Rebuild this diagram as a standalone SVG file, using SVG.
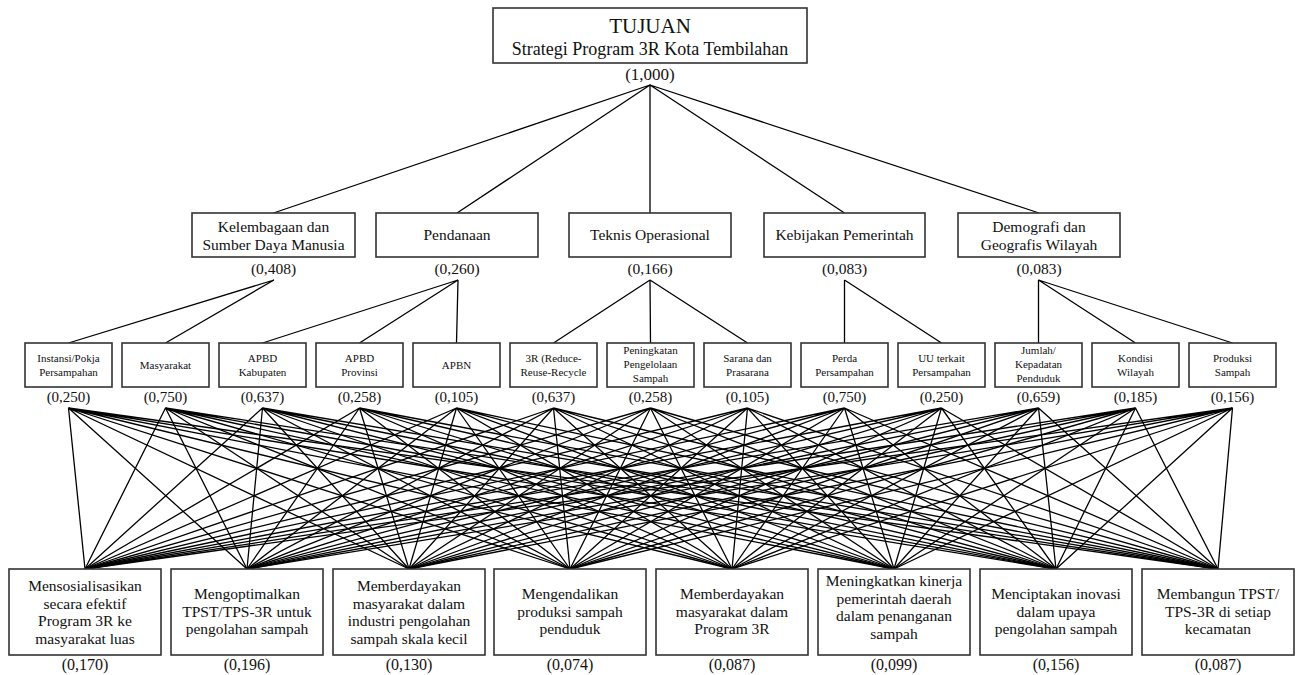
<svg xmlns="http://www.w3.org/2000/svg" width="1300" height="675" viewBox="0 0 1300 675">
<style>
text{font-family:"Liberation Serif","Times New Roman",serif;fill:#111;text-anchor:middle}
.box{fill:#fff;stroke:#333;stroke-width:1.6}
.ln{fill:none;stroke:#000;stroke-width:1.3}
.t1{font-size:21px}
.t2{font-size:18px}
.tv{font-size:17px}
.c{font-size:15.5px}
.cv{font-size:15.5px}
.s{font-size:11px}
.sv{font-size:15px}
.a{font-size:15.5px}
.av{font-size:16px}
</style>
<rect width="1300" height="675" fill="#fff"/>
<g id="connectors">
<path class="ln" d="M650 85L273.5 213M650 85L457 213M650 85L650 213M650 85L844.5 213M650 85L1039 213"/>
<path class="ln" d="M274 280L68.5 343M274 280L165.5 343M458 280L262.5 343M458 280L359.5 343M458 280L456.5 343M650 280L553.5 343M650 280L650.5 343M650 280L747.5 343M844.5 280L844.5 343M844.5 280L941.5 343M1038.5 280L1038.5 343M1038.5 280L1135.5 343M1038.5 280L1232.5 343"/>
<path class="ln" d="M68.5 408L85 569M68.5 408L247 569M68.5 408L409 569M68.5 408L570 569M68.5 408L732 569M68.5 408L894 569M68.5 408L1056 569M68.5 408L1218 569"/>
<path class="ln" d="M165.5 408L85 569M165.5 408L247 569M165.5 408L409 569M165.5 408L570 569M165.5 408L732 569M165.5 408L894 569M165.5 408L1056 569M165.5 408L1218 569"/>
<path class="ln" d="M262.5 408L85 569M262.5 408L247 569M262.5 408L409 569M262.5 408L570 569M262.5 408L732 569M262.5 408L894 569M262.5 408L1056 569M262.5 408L1218 569"/>
<path class="ln" d="M359.5 408L85 569M359.5 408L247 569M359.5 408L409 569M359.5 408L570 569M359.5 408L732 569M359.5 408L894 569M359.5 408L1056 569M359.5 408L1218 569"/>
<path class="ln" d="M456.5 408L85 569M456.5 408L247 569M456.5 408L409 569M456.5 408L570 569M456.5 408L732 569M456.5 408L894 569M456.5 408L1056 569M456.5 408L1218 569"/>
<path class="ln" d="M553.5 408L85 569M553.5 408L247 569M553.5 408L409 569M553.5 408L570 569M553.5 408L732 569M553.5 408L894 569M553.5 408L1056 569M553.5 408L1218 569"/>
<path class="ln" d="M650.5 408L85 569M650.5 408L247 569M650.5 408L409 569M650.5 408L570 569M650.5 408L732 569M650.5 408L894 569M650.5 408L1056 569M650.5 408L1218 569"/>
<path class="ln" d="M747.5 408L85 569M747.5 408L247 569M747.5 408L409 569M747.5 408L570 569M747.5 408L732 569M747.5 408L894 569M747.5 408L1056 569M747.5 408L1218 569"/>
<path class="ln" d="M844.5 408L85 569M844.5 408L247 569M844.5 408L409 569M844.5 408L570 569M844.5 408L732 569M844.5 408L894 569M844.5 408L1056 569M844.5 408L1218 569"/>
<path class="ln" d="M941.5 408L85 569M941.5 408L247 569M941.5 408L409 569M941.5 408L570 569M941.5 408L732 569M941.5 408L894 569M941.5 408L1056 569M941.5 408L1218 569"/>
<path class="ln" d="M1038.5 408L85 569M1038.5 408L247 569M1038.5 408L409 569M1038.5 408L570 569M1038.5 408L732 569M1038.5 408L894 569M1038.5 408L1056 569M1038.5 408L1218 569"/>
<path class="ln" d="M1135.5 408L85 569M1135.5 408L247 569M1135.5 408L409 569M1135.5 408L570 569M1135.5 408L732 569M1135.5 408L894 569M1135.5 408L1056 569M1135.5 408L1218 569"/>
<path class="ln" d="M1232.5 408L85 569M1232.5 408L247 569M1232.5 408L409 569M1232.5 408L570 569M1232.5 408L732 569M1232.5 408L894 569M1232.5 408L1056 569M1232.5 408L1218 569"/>
</g>
<g id="goal">
<rect class="box" x="493" y="8" width="314" height="55"/>
<text class="t1" x="650" y="33">TUJUAN</text>
<text class="t2" x="650" y="55">Strategi Program 3R Kota Tembilahan</text>
<text class="tv" x="650" y="80">(1,000)</text>
</g>
<g id="c1"><rect class="box" x="192" y="213" width="163" height="44"/><text class="c" x="273.5" y="232">Kelembagaan dan</text><text class="c" x="273.5" y="250">Sumber Daya Manusia</text><text class="cv" x="273.5" y="274">(0,408)</text></g>
<g id="c2"><rect class="box" x="376" y="213" width="162" height="44"/><text class="c" x="457" y="240">Pendanaan</text><text class="cv" x="457" y="274">(0,260)</text></g>
<g id="c3"><rect class="box" x="569" y="213" width="162" height="44"/><text class="c" x="650" y="240">Teknis Operasional</text><text class="cv" x="650" y="274">(0,166)</text></g>
<g id="c4"><rect class="box" x="764" y="213" width="161" height="44"/><text class="c" x="844.5" y="240">Kebijakan Pemerintah</text><text class="cv" x="844.5" y="274">(0,083)</text></g>
<g id="c5"><rect class="box" x="958" y="213" width="162" height="44"/><text class="c" x="1039" y="232">Demografi dan</text><text class="c" x="1039" y="250">Geografis Wilayah</text><text class="cv" x="1039" y="274">(0,083)</text></g>
<g id="s1"><rect class="box" x="25" y="343" width="87" height="44"/><text class="s" x="68.5" y="362">Instansi/Pokja</text><text class="s" x="68.5" y="376">Persampahan</text><text class="sv" x="68.5" y="402">(0,250)</text></g>
<g id="s2"><rect class="box" x="122" y="343" width="87" height="44"/><text class="s" x="165.5" y="369">Masyarakat</text><text class="sv" x="165.5" y="402">(0,750)</text></g>
<g id="s3"><rect class="box" x="219" y="343" width="87" height="44"/><text class="s" x="262.5" y="362">APBD</text><text class="s" x="262.5" y="376">Kabupaten</text><text class="sv" x="262.5" y="402">(0,637)</text></g>
<g id="s4"><rect class="box" x="316" y="343" width="87" height="44"/><text class="s" x="359.5" y="362">APBD</text><text class="s" x="359.5" y="376">Provinsi</text><text class="sv" x="359.5" y="402">(0,258)</text></g>
<g id="s5"><rect class="box" x="413" y="343" width="87" height="44"/><text class="s" x="456.5" y="369">APBN</text><text class="sv" x="456.5" y="402">(0,105)</text></g>
<g id="s6"><rect class="box" x="510" y="343" width="87" height="44"/><text class="s" x="553.5" y="362">3R (Reduce-</text><text class="s" x="553.5" y="376">Reuse-Recycle</text><text class="sv" x="553.5" y="402">(0,637)</text></g>
<g id="s7"><rect class="box" x="607" y="343" width="87" height="44"/><text class="s" x="650.5" y="354">Peningkatan</text><text class="s" x="650.5" y="368">Pengelolaan</text><text class="s" x="650.5" y="382">Sampah</text><text class="sv" x="650.5" y="402">(0,258)</text></g>
<g id="s8"><rect class="box" x="704" y="343" width="87" height="44"/><text class="s" x="747.5" y="362">Sarana dan</text><text class="s" x="747.5" y="376">Prasarana</text><text class="sv" x="747.5" y="402">(0,105)</text></g>
<g id="s9"><rect class="box" x="801" y="343" width="87" height="44"/><text class="s" x="844.5" y="362">Perda</text><text class="s" x="844.5" y="376">Persampahan</text><text class="sv" x="844.5" y="402">(0,750)</text></g>
<g id="s10"><rect class="box" x="898" y="343" width="87" height="44"/><text class="s" x="941.5" y="362">UU terkait</text><text class="s" x="941.5" y="376">Persampahan</text><text class="sv" x="941.5" y="402">(0,250)</text></g>
<g id="s11"><rect class="box" x="995" y="343" width="87" height="44"/><text class="s" x="1038.5" y="354">Jumlah/</text><text class="s" x="1038.5" y="368">Kepadatan</text><text class="s" x="1038.5" y="382">Penduduk</text><text class="sv" x="1038.5" y="402">(0,659)</text></g>
<g id="s12"><rect class="box" x="1092" y="343" width="87" height="44"/><text class="s" x="1135.5" y="362">Kondisi</text><text class="s" x="1135.5" y="376">Wilayah</text><text class="sv" x="1135.5" y="402">(0,185)</text></g>
<g id="s13"><rect class="box" x="1189" y="343" width="87" height="44"/><text class="s" x="1232.5" y="362">Produksi</text><text class="s" x="1232.5" y="376">Sampah</text><text class="sv" x="1232.5" y="402">(0,156)</text></g>
<g id="a1"><rect class="box" x="9" y="569" width="152" height="86"/><text class="a" x="85" y="591">Mensosialisasikan</text><text class="a" x="85" y="608.5">secara efektif</text><text class="a" x="85" y="626">Program 3R ke</text><text class="a" x="85" y="643.5">masyarakat luas</text><text class="av" x="85" y="670">(0,170)</text></g>
<g id="a2"><rect class="box" x="171" y="569" width="152" height="86"/><text class="a" x="247" y="599">Mengoptimalkan</text><text class="a" x="247" y="616.5">TPST/TPS-3R untuk</text><text class="a" x="247" y="634">pengolahan sampah</text><text class="av" x="247" y="670">(0,196)</text></g>
<g id="a3"><rect class="box" x="333" y="569" width="152" height="86"/><text class="a" x="409" y="591">Memberdayakan</text><text class="a" x="409" y="608.5">masyarakat dalam</text><text class="a" x="409" y="626">industri pengolahan</text><text class="a" x="409" y="643.5">sampah skala kecil</text><text class="av" x="409" y="670">(0,130)</text></g>
<g id="a4"><rect class="box" x="494" y="569" width="152" height="86"/><text class="a" x="570" y="599">Mengendalikan</text><text class="a" x="570" y="616.5">produksi sampah</text><text class="a" x="570" y="634">penduduk</text><text class="av" x="570" y="670">(0,074)</text></g>
<g id="a5"><rect class="box" x="656" y="569" width="152" height="86"/><text class="a" x="732" y="599">Memberdayakan</text><text class="a" x="732" y="616.5">masyarakat dalam</text><text class="a" x="732" y="634">Program 3R</text><text class="av" x="732" y="670">(0,087)</text></g>
<g id="a6"><rect class="box" x="818" y="569" width="152" height="86"/><text class="a" x="894" y="586">Meningkatkan kinerja</text><text class="a" x="894" y="603.5">pemerintah daerah</text><text class="a" x="894" y="621">dalam penanganan</text><text class="a" x="894" y="638.5">sampah</text><text class="av" x="894" y="670">(0,099)</text></g>
<g id="a7"><rect class="box" x="980" y="569" width="152" height="86"/><text class="a" x="1056" y="599">Menciptakan inovasi</text><text class="a" x="1056" y="616.5">dalam upaya</text><text class="a" x="1056" y="634">pengolahan sampah</text><text class="av" x="1056" y="670">(0,156)</text></g>
<g id="a8"><rect class="box" x="1142" y="569" width="152" height="86"/><text class="a" x="1218" y="599">Membangun TPST/</text><text class="a" x="1218" y="616.5">TPS-3R di setiap</text><text class="a" x="1218" y="634">kecamatan</text><text class="av" x="1218" y="670">(0,087)</text></g>
</svg>
